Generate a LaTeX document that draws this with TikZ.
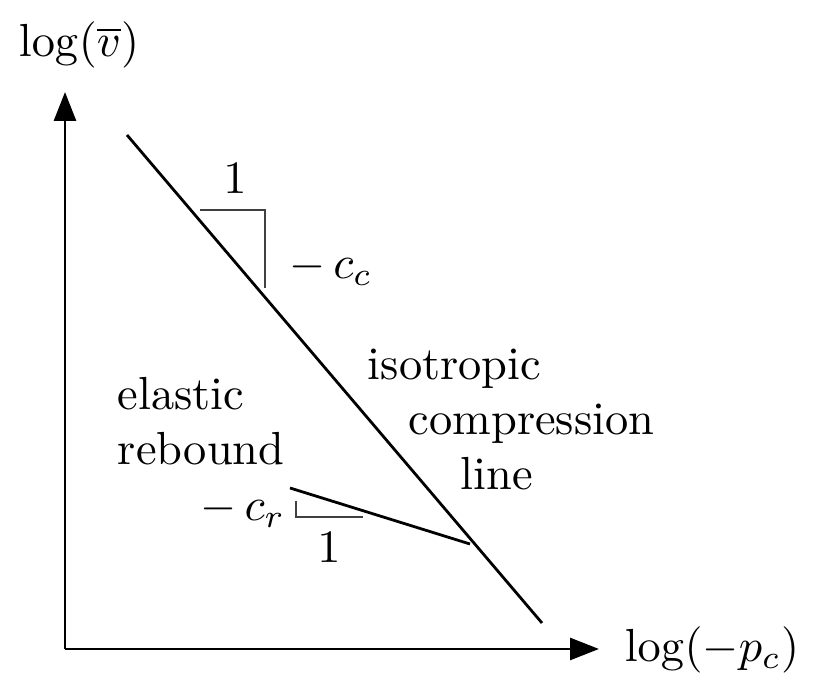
\documentclass[tikz,border=0pt]{standalone}
\usepackage{amssymb,mathtools}
\usetikzlibrary{positioning,arrows.meta,calc}

\begin{document}
\begin{tikzpicture}[x=0.2155pt,y=-0.2155pt]
\tikzset{axis/.style={line width=0.62pt,-{Triangle[length=6.2pt,width=4.7pt]}},
  curve/.style={line width=0.6pt},
  slope/.style={line width=0.32pt,draw=black!75},
  lbl/.style={inner sep=0pt},
  word/.style={inner sep=0pt,anchor=base west}}
\useasboundingbox (0,0) rectangle (817,688);

% axes
\coordinate (O) at (65,649);
\coordinate (ytop) at (65,92);
\coordinate (xend) at (599,649);
\draw[axis] (O) -- (ytop);
\draw[axis] (O) -- (xend);
\node[lbl] (ylab) at (79,45) {$\log(\overline{v})$};
\node[lbl] (xlab) at (712,650) {$\log(-p_c)$};

% lines
\coordinate (icA) at (127,135);
\coordinate (icB) at (542,623);
\coordinate (erA) at (290,488);
\coordinate (erB) at (470,544);
\draw[curve] (icA) -- (icB);
\draw[curve] (erA) -- (erB);

% slopes
\coordinate (tA) at (200,210);
\coordinate (tB) at (265,210);
\coordinate (tC) at (265,288);
\draw[slope] (tA) -- (tB) -- (tC);
\node[lbl] (one1) at (235,179) {$1$};
\node[lbl] (cc) at (331,268) {$-\,c_c$};

\coordinate (sA) at (296,501);
\coordinate (sB) at (296,517);
\coordinate (sC) at (363,517);
\draw[slope] (sA) -- (sB) -- (sC);
\node[lbl] (one2) at (329,548) {$1$};
\node[lbl] (cr) at (243,510) {$-\,c_r$};

% labels
\node[word] (elastic) at (117,410) {elastic};
\node[word] (rebound) at (117,465) {rebound};
\node[word] (iso) at (367,380) {isotropic};
\node[word] (compr) at (408,435) {compression};
\node[word] (line) at (460,490) {line};
\end{tikzpicture}
\end{document}
